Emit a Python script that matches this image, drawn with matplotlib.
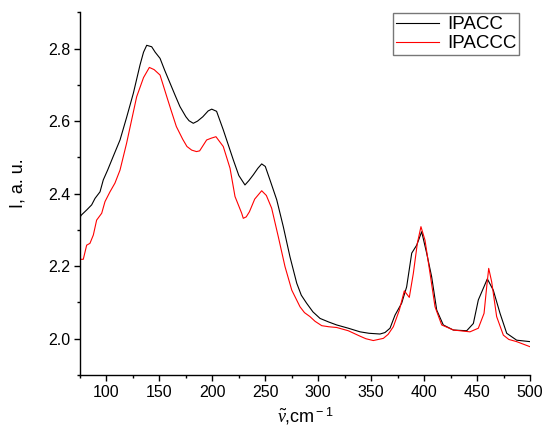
import numpy as np
import matplotlib
matplotlib.use('Agg')
import matplotlib.pyplot as plt
from matplotlib.ticker import MultipleLocator

###################################
#     Data                      ###
###################################

# IPACC (black)
x_ipacc = [75, 76.3, 81.3, 86, 89.2, 93.9, 97, 101.1, 106, 112.8, 119, 125.4, 131.7, 135,
           138, 142.7, 146, 150.6, 155, 160, 165, 169.4, 175, 178, 182, 186, 191, 196, 199.4,
           204, 210.3, 215, 219.8, 225, 230.8, 234.5, 238.7, 243, 246.6, 250, 254.4, 260.8,
           267, 273.3, 279.7, 284, 289, 295, 301.7, 310, 317.4, 328.4, 339.5, 348, 358.3,
           363, 367.8, 372.5, 378.8, 383.5, 388.3, 393, 397.7, 402.4, 407.1, 411.9, 418.1,
           427.6, 440.2, 446.5, 451.2, 455.9, 459.7, 465.3, 471.7, 478, 487.4, 500]
y_ipacc = [2.335, 2.341, 2.355, 2.369, 2.387, 2.405, 2.438, 2.465, 2.5, 2.548, 2.61, 2.677,
           2.755, 2.79, 2.809, 2.805, 2.79, 2.773, 2.74, 2.705, 2.67, 2.64, 2.612, 2.601,
           2.594, 2.6, 2.612, 2.628, 2.633, 2.627, 2.576, 2.535, 2.493, 2.45, 2.424, 2.436,
           2.452, 2.47, 2.482, 2.475, 2.438, 2.383, 2.309, 2.226, 2.153, 2.12, 2.098, 2.074,
           2.056, 2.046, 2.038, 2.029, 2.019, 2.015, 2.013, 2.017, 2.029, 2.065, 2.098, 2.143,
           2.236, 2.258, 2.295, 2.236, 2.171, 2.079, 2.038, 2.024, 2.022, 2.042, 2.107, 2.139,
           2.165, 2.134, 2.07, 2.015, 1.996, 1.992]

# IPACCC (red)
x_ipaccc = [75, 78.1, 81.3, 84.4, 87.6, 90.7, 95.5, 98.6, 103.3, 108, 112.8, 119, 128.5, 135,
            140.5, 145, 150.6, 157, 161, 166, 172, 176, 180.5, 185, 188, 194.6, 199, 203.4,
            210.3, 216.7, 221.4, 227.7, 229.2, 232, 235, 240, 246.6, 251, 256, 262.3, 268.6,
            275, 282.8, 287, 292.2, 297, 303.3, 310, 317.4, 328.4, 339.5, 345, 352, 361.5,
            366, 370.9, 376.6, 381.3, 386, 389.8, 393.6, 397, 400.8, 405.6, 410.3, 416.6,
            427.6, 443.3, 451.2, 456.6, 459.1, 461, 463.8, 468.5, 474.8, 480, 487.4, 500]
y_ipaccc = [2.219, 2.219, 2.258, 2.263, 2.286, 2.327, 2.346, 2.378, 2.405, 2.429, 2.465, 2.539,
            2.667, 2.72, 2.748, 2.742, 2.727, 2.667, 2.63, 2.585, 2.55, 2.53, 2.52, 2.516,
            2.518, 2.548, 2.553, 2.557, 2.53, 2.47, 2.392, 2.346, 2.332, 2.336, 2.35, 2.385,
            2.408, 2.395, 2.36, 2.281, 2.199, 2.134, 2.088, 2.072, 2.061, 2.048, 2.036, 2.033,
            2.031, 2.022, 2.007, 2.0, 1.995, 2.001, 2.012, 2.033, 2.079, 2.132, 2.114, 2.18,
            2.263, 2.309, 2.272, 2.18, 2.088, 2.038, 2.024, 2.019, 2.029, 2.07, 2.143, 2.194,
            2.157, 2.061, 2.01, 1.998, 1.992, 1.978]

###################################
#     Style                     ###
###################################

plt.rcParams['font.family'] = ['Liberation Sans', 'DejaVu Sans']
plt.rcParams['mathtext.fontset'] = 'custom'
plt.rcParams['mathtext.rm'] = 'Liberation Sans'
plt.rcParams['mathtext.it'] = 'Liberation Serif:italic'

###################################
#     Plot                      ###
###################################

fig = plt.figure(figsize=(5.42, 4.32), dpi=100)
ax = fig.add_axes([80 / 542, 1 - 375 / 432, 450 / 542, (375 - 12.3) / 432])

ax.plot(x_ipacc, y_ipacc, color='black', lw=0.8, label='IPACC')
ax.plot(x_ipaccc, y_ipaccc, color='#ff0000', lw=0.8, label='IPACCC')

ax.set_xlim(75, 500)
ax.set_ylim(1.9, 2.9)
ax.xaxis.set_major_locator(MultipleLocator(50))
ax.xaxis.set_minor_locator(MultipleLocator(25))
ax.yaxis.set_minor_locator(MultipleLocator(0.1))
ax.set_yticks([2.0, 2.2, 2.4, 2.6, 2.8])
ax.set_yticklabels(['2.0', '2.2', '2.4', '2.6', '2.8'])

for s in ['top', 'right']:
    ax.spines[s].set_visible(False)
for s in ['left', 'bottom']:
    ax.spines[s].set_linewidth(1.0)

ax.tick_params(which='major', direction='out', length=4, width=1.0, labelsize=11.5, pad=3)
ax.tick_params(which='minor', direction='out', length=2.5, width=1.0)

ax.set_ylabel('I, a. u.', fontsize=13)
ax.yaxis.set_label_coords(-0.118, 0.53)
ax.set_xlabel(r'$\tilde{\nu}$,cm$^{\rm -1}$', fontsize=13, labelpad=4)

leg = ax.legend(loc='upper right', bbox_to_anchor=(0.9756, 0.997), fontsize=13.5,
                frameon=True, fancybox=False, handlelength=2.3, handletextpad=0.4,
                borderpad=0.15, labelspacing=0.1, borderaxespad=0)
leg.get_frame().set_edgecolor('#555555')
leg.get_frame().set_linewidth(1.0)

plt.savefig('out.png', dpi=100)
